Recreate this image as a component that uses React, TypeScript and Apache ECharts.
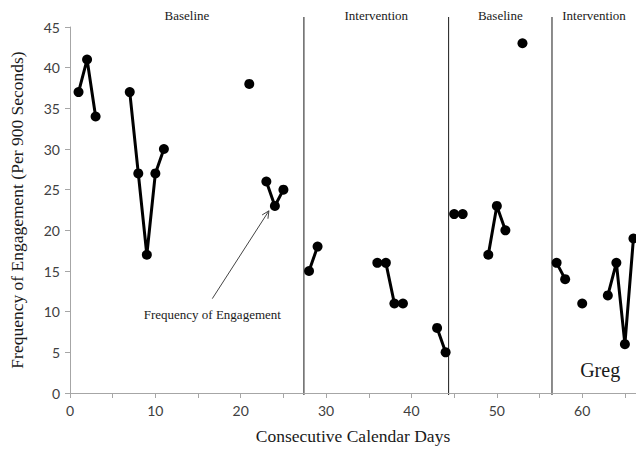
import React, { useEffect, useRef } from "react";
import * as echarts from "echarts";

const days = [1, 2, 3, 7, 8, 9, 10, 11, 21, 23, 24, 25, 28, 29, 36, 37, 38, 39, 43, 44, 45, 46, 49, 50, 51, 53, 57, 58, 60, 63, 64, 65, 66];
const values = [37, 41, 34, 37, 27, 17, 27, 30, 38, 26, 23, 25, 15, 18, 16, 16, 11, 11, 8, 5, 22, 22, 17, 23, 20, 43, 16, 14, 11, 12, 16, 6, 19];
const phaseChanges = [27.4, 44.35, 56.46];
const phaseNames = ["Baseline", "Intervention", "Baseline", "Intervention"];
const xTickLabels = [0, 10, 20, 30, 40, 50, 60];
const annotationText = "Frequency of Engagement";
const annotationFrom = [16.67, 11.6];
const annotationTo = [23.3, 22.4];
const annotationLabelAt = [16.67, 9.6];
const participant = "Greg";
const participantAt = [62.1, 2.8];

const X_MAX = 66.3;
const Y_MAX = 45;
const SERIF = "'Liberation Serif', 'DejaVu Serif', serif";
const SANS = "Lato, 'Open Sans', sans-serif";

export default function App() {
  const ref = useRef<HTMLDivElement>(null);
  useEffect(() => {
    if (!ref.current) return;
    const chart = echarts.init(ref.current, null, { renderer: "svg" });
    // build data with breaks at non-consecutive days and phase changes
    const data: any[] = [];
    for (let i = 0; i < days.length; i++) {
      if (i > 0) {
        const prev = days[i - 1];
        const crossesPhase = phaseChanges.some((p) => p > prev && p < days[i]);
        if (days[i] - prev > 1 || crossesPhase) data.push([(days[i] + prev) / 2, "-"]);
      }
      data.push([days[i], values[i]]);
    }
    chart.setOption({
      animation: false,
      grid: { left: 68, right: 0, top: 27, bottom: 54, containLabel: false },
      xAxis: {
        type: "value",
        min: 0,
        max: X_MAX,
        interval: 5,
        name: "Consecutive Calendar Days",
        nameLocation: "middle",
        nameGap: 34,
        nameTextStyle: { fontFamily: SERIF, fontSize: 17.5, color: "#1a1a1a" },
        axisLine: { show: true, lineStyle: { color: "#a6a6a6", width: 1 } },
        axisTick: { show: true, length: 5, lineStyle: { color: "#a6a6a6" } },
        axisLabel: {
          fontFamily: SANS,
          fontSize: 14,
          color: "#404040",
          margin: 10,
          showMaxLabel: false,
          formatter: (v: number) => (xTickLabels.includes(v) ? String(v) : ""),
        },
        splitLine: { show: false },
      },
      yAxis: {
        type: "value",
        min: 0,
        max: Y_MAX,
        interval: 5,
        name: "Frequency of Engagement (Per 900 Seconds)",
        nameLocation: "middle",
        nameGap: 44,
        nameTextStyle: { fontFamily: SERIF, fontSize: 17.5, color: "#1a1a1a" },
        axisLine: { show: true, lineStyle: { color: "#a6a6a6", width: 1 } },
        axisTick: { show: true, length: 5, lineStyle: { color: "#a6a6a6" } },
        axisLabel: { fontFamily: SANS, fontSize: 14, color: "#404040", margin: 10 },
        splitLine: { show: false },
      },
      series: [
        {
          type: "line",
          data,
          connectNulls: false,
          clip: false,
          symbol: "circle",
          symbolSize: 10,
          lineStyle: { color: "#000", width: 3 },
          itemStyle: { color: "#000" },
        },
      ],
    });

    const px = (x: number, y: number) => chart.convertToPixel({ gridIndex: 0 }, [x, y]) as number[];
    const graphics: any[] = [];
    const topY = 17;
    const bottom = px(0, 0)[1];
    phaseChanges.forEach((x) => {
      const p = px(x, 0);
      graphics.push({
        type: "line",
        shape: { x1: p[0], y1: topY, x2: p[0], y2: bottom + 2 },
        style: { stroke: "#1a1a1a", lineWidth: 1 },
        silent: true,
      });
    });
    const bounds = [0, ...phaseChanges, X_MAX];
    phaseNames.forEach((name, i) => {
      const cx = (px(bounds[i], 0)[0] + px(bounds[i + 1], 0)[0]) / 2;
      graphics.push({
        type: "text",
        x: cx,
        y: 15,
        style: {
          text: name,
          font: `13px ${SERIF}`,
          fill: "#1a1a1a",
          align: "center",
          verticalAlign: "middle",
        },
      });
    });
    // annotation arrow
    const a0 = px(annotationFrom[0], annotationFrom[1]);
    const a1 = px(annotationTo[0], annotationTo[1]);
    graphics.push({
      type: "line",
      shape: { x1: a0[0], y1: a0[1], x2: a1[0], y2: a1[1] },
      style: { stroke: "#444", lineWidth: 1 },
    });
    const ang = Math.atan2(a1[1] - a0[1], a1[0] - a0[0]);
    const hl = 8;
    const spread = 0.45;
    graphics.push({
      type: "polyline",
      shape: {
        points: [
          [a1[0] - hl * Math.cos(ang - spread), a1[1] - hl * Math.sin(ang - spread)],
          [a1[0], a1[1]],
          [a1[0] - hl * Math.cos(ang + spread), a1[1] - hl * Math.sin(ang + spread)],
        ],
      },
      style: { stroke: "#444", lineWidth: 1, fill: null },
    });
    const lp = px(annotationLabelAt[0], annotationLabelAt[1]);
    graphics.push({
      type: "text",
      x: lp[0],
      y: lp[1],
      style: {
        text: annotationText,
        font: `13px ${SERIF}`,
        fill: "#1a1a1a",
        align: "center",
        verticalAlign: "middle",
      },
    });
    const gp = px(participantAt[0], participantAt[1]);
    graphics.push({
      type: "text",
      x: gp[0],
      y: gp[1],
      style: {
        text: participant,
        font: `20px ${SERIF}`,
        fill: "#1a1a1a",
        align: "center",
        verticalAlign: "middle",
      },
    });
    chart.setOption({ graphic: graphics });
    return () => chart.dispose();
  }, []);
  return <div ref={ref} style={{ width: 636, height: 450, position: "absolute", left: 0, top: 0 }} />;
}
